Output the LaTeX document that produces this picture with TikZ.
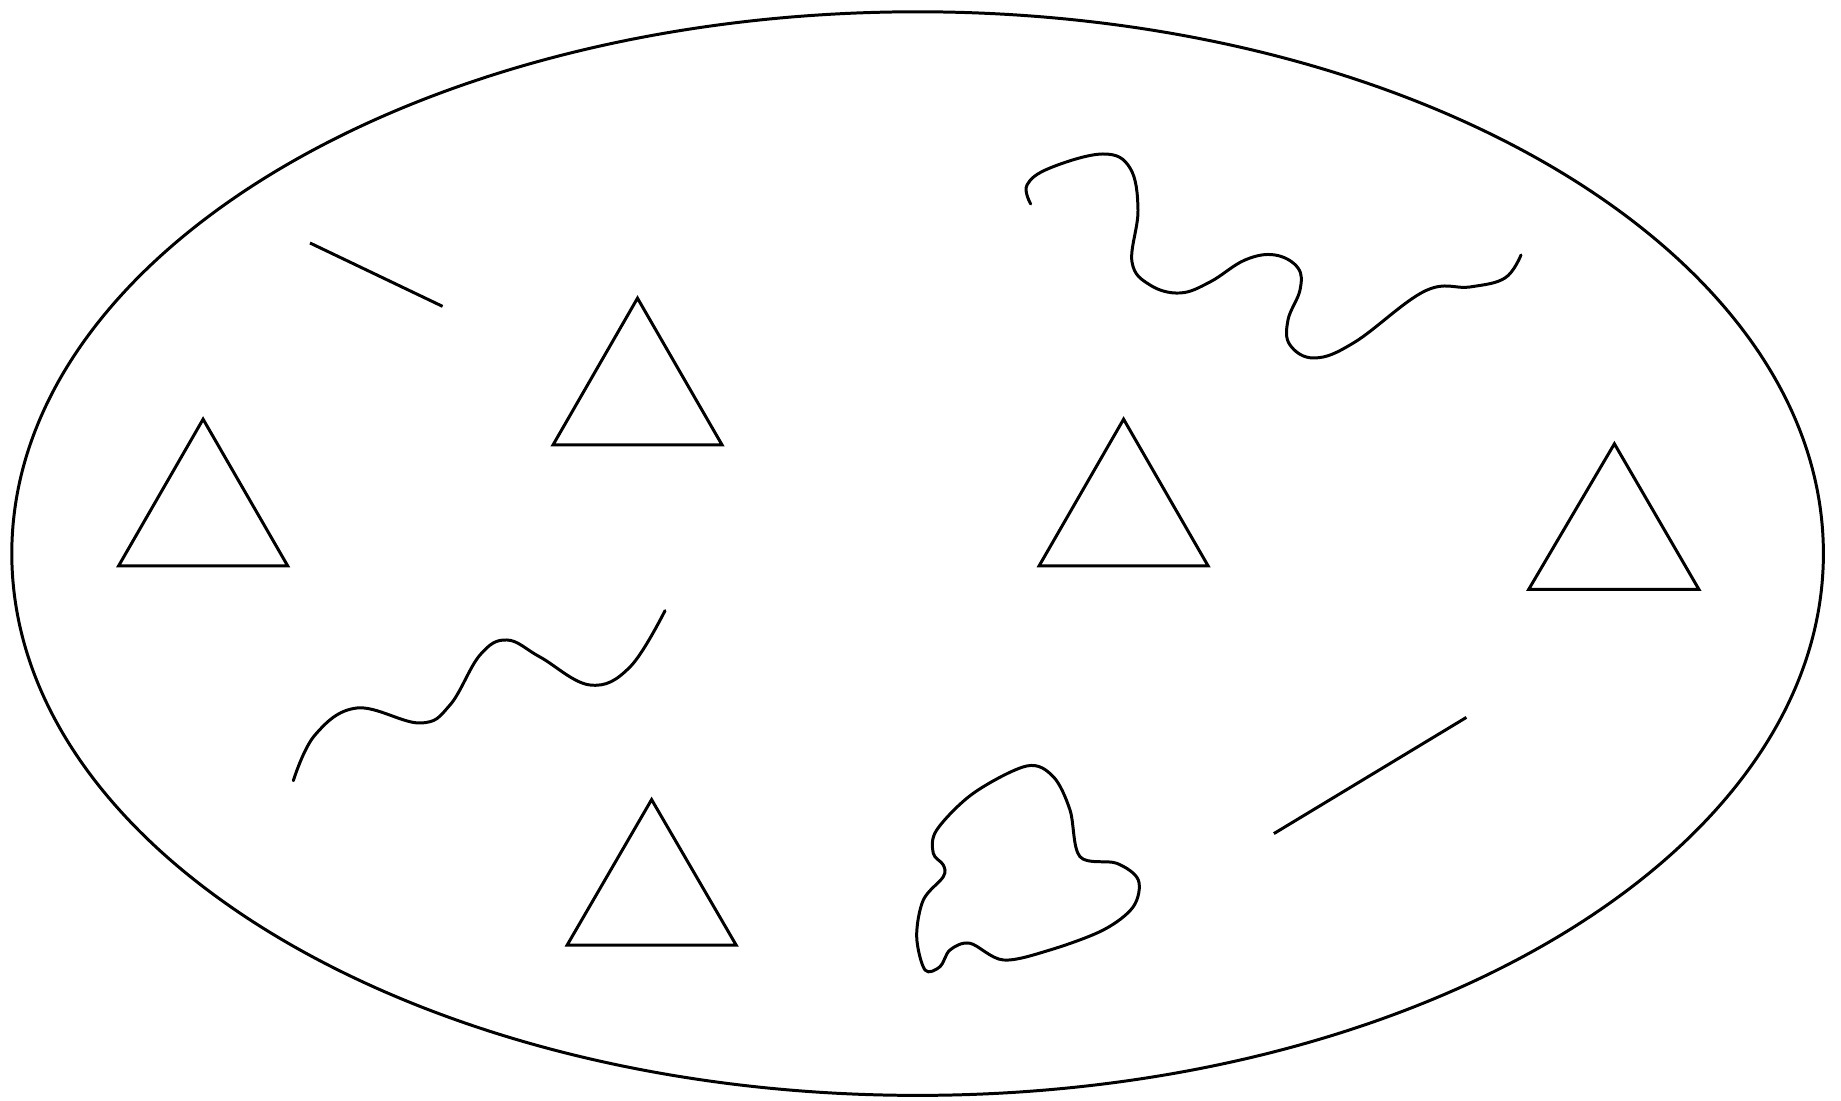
\documentclass[tikz,border=0pt]{standalone}
\begin{document}
\begin{tikzpicture}[x=0.01cm,y=-0.01cm,
  shape line/.style={draw=black,line width=0.85pt,line join=miter},
  curve line/.style={draw=black,line width=0.85pt,line cap=round}]
\useasboundingbox (0,0) rectangle (1841,1101);
% outer ellipse
\draw[shape line] (917.6,553.6) ellipse [x radius=905.8, y radius=541.8];
% triangles
\draw[shape line] (203.1,419.2) -- (287.7,565.9) -- (118.6,565.9) -- cycle;
\draw[shape line] (637.5,298.2) -- (722.1,445) -- (553,445) -- cycle;
\draw[shape line] (1123.6,419.2) -- (1208.1,565.9) -- (1039.1,565.9) -- cycle;
\draw[shape line] (1614.4,443.8) -- (1698.9,589.4) -- (1528.7,589.4) -- cycle;
\draw[shape line] (651.6,799.6) -- (736.2,945.2) -- (567.1,945.2) -- cycle;
% straight lines
\draw[shape line] (310,243) -- (442.6,306.4);
\draw[shape line] (1273.9,833.6) -- (1466.4,717.4);
% top-right squiggle
\draw[curve line] plot[smooth, tension=0.65] coordinates {
  (1030.7,204) (1027,185) (1050,168) (1103,154) (1130,168) (1138,210)
  (1132,262) (1150,285) (1180,293) (1210,282) (1245,260) (1275,255)
  (1298,268) (1300,290) (1288,320) (1290,345) (1315,358) (1355,342)
  (1425,291) (1470,287) (1505,278) (1521,255)};
% bottom-left squiggle
\draw[curve line] plot[smooth, tension=0.65] coordinates {
  (293.3,780.7) (315,735) (357,708) (420,723) (450,705) (480,655)
  (507,640) (540,657) (590,685) (630,667) (665,610.7)};
% blob
\draw[curve line] plot[smooth cycle, tension=0.55] coordinates {
  (925,970) (916.7,936.7) (923.3,900) (943.3,876.7) (943.3,865)
  (933.3,853.3) (936.7,830) (973.3,793.3) (1026.7,766) (1053.3,776.7)
  (1070,810) (1080,856.7) (1116.7,863.3) (1138.3,880) (1133.3,906.7)
  (1103.3,930) (1050,950) (1003.3,960) (970,943.3) (950,950) (940,966.7)};
\end{tikzpicture}
\end{document}
